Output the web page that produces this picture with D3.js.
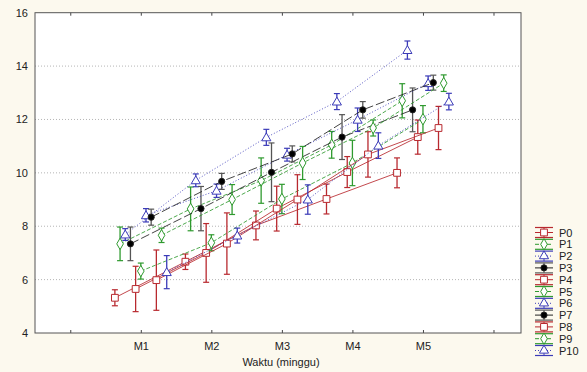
<!DOCTYPE html>
<html><head><meta charset="utf-8">
<script src="https://cdn.jsdelivr.net/npm/d3@7"></script>
<style>
html,body{margin:0;padding:0;background:#fcf9ee;}
svg{display:block;font-family:"Liberation Sans",Arial,sans-serif;}
</style></head>
<body>
<svg id="chart" width="587" height="372"></svg>
<script>
// ---- data ----
const tickLabels = ["", "M1", "M2", "M3", "M4", "M5", ""];
const categories = ["M1", "M2", "M3", "M4", "M5"];
const seriesNames = ["P0","P1","P2","P3","P4","P5","P6","P7","P8","P9","P10"];
const P0  = [5.32, 6.67, 8.03, 9.02, 10.00];
const P1  = [7.34, 8.65, 9.71, 11.05, 12.70];
const P2  = [7.69, 9.72, 11.33, 12.67, 14.60];
const P3  = [7.34, 8.66, 10.02, 11.34, 12.36];
const P4  = [5.65, 7.00, 8.66, 10.03, 11.34];
const P5  = [6.32, 7.38, 9.02, 10.37, 12.01];
const P6  = [8.41, 9.33, 10.68, 11.99, 13.36];
const P7  = [8.34, 9.68, 10.71, 12.36, 13.38];
const P8  = [5.98, 7.35, 9.00, 10.69, 11.68];
const P9  = [7.66, 9.00, 10.37, 11.68, 13.36];
const P10 = [6.28, 7.65, 9.00, 11.02, 12.67];
const P0err  = [0.30, 0.29, 0.54, 0.56, 0.56];
const P1err  = [0.63, 0.82, 0.85, 0.50, 0.64];
const P2err  = [0.22, 0.24, 0.30, 0.30, 0.34];
const P3err  = [0.63, 0.83, 1.10, 0.84, 0.82];
const P4err  = [0.85, 1.10, 0.84, 0.58, 0.64];
const P5err  = [0.30, 0.30, 0.55, 0.85, 0.51];
const P6err  = [0.25, 0.25, 0.24, 0.44, 0.27];
const P7err  = [0.30, 0.30, 0.30, 0.31, 0.28];
const P8err  = [1.13, 1.15, 0.93, 0.85, 0.81];
const P9err  = [0.27, 0.56, 0.62, 0.30, 0.31];
const P10err = [0.62, 0.28, 0.55, 0.48, 0.31];
const yTicks = [4, 6, 8, 10, 12, 14, 16];

const means = [P0,P1,P2,P3,P4,P5,P6,P7,P8,P9,P10];
const errs  = [P0err,P1err,P2err,P3err,P4err,P5err,P6err,P7err,P8err,P9err,P10err];

// style per group (cycling red, green, blue, black)
const styles = [
  {color:"#b8292f", bar:"#b8292f", dash:null, sym:d3.symbolSquare, size:46, fill:"#fff"},
  {color:"#2f9a2f", bar:"#2f9a2f", dash:"4,2", sym:d3.symbolDiamond, size:38, fill:"#fff"},
  {color:"#3b3bb8", bar:"#3b3bb8", dash:"1,2", sym:d3.symbolTriangle, size:36, fill:"#fff"},
  {color:"#222222", bar:"#555555", dash:"9,3", sym:d3.symbolCircle, size:30, fill:"#000"}
];

const svg = d3.select("#chart");
const L = 35, R = 521, T = 12.7, B = 333;
const x = d3.scaleLinear().domain([-0.5, 6.39]).range([L, R]);
const y = d3.scaleLinear().domain([4, 16]).range([B, T]);

svg.append("rect").attr("x", L).attr("y", T).attr("width", R-L).attr("height", B-T).attr("fill", "#fff");

// grid
svg.append("g").selectAll("line").data(yTicks.slice(1, -1)).join("line")
  .attr("x1", L).attr("x2", R).attr("y1", d => y(d)).attr("y2", d => y(d))
  .attr("stroke", "#b5b5b5").attr("stroke-width", 1).attr("stroke-dasharray", "1,2");

// x axis
const xAxis = d3.axisBottom(x).tickValues(d3.range(tickLabels.length))
  .tickFormat(i => tickLabels[i]).tickSizeInner(-3).tickSizeOuter(0).tickPadding(9);
const gx = svg.append("g").attr("transform", `translate(0,${B})`).call(xAxis);
gx.select(".domain").remove();
gx.selectAll("line").attr("stroke", "#444");
gx.selectAll("text").attr("font-size", 11).attr("fill", "#222").attr("font-family", "Liberation Sans, Arial, sans-serif");
const gxt = svg.append("g").attr("transform", `translate(0,${T})`).call(d3.axisTop(x).tickValues(d3.range(tickLabels.length)).tickFormat("").tickSizeInner(-3).tickSizeOuter(0));
gxt.select(".domain").remove();
gxt.selectAll("line").attr("stroke", "#444");

// y axis
const yAxis = d3.axisLeft(y).tickValues(yTicks).tickSize(0).tickPadding(7);
const gy = svg.append("g").attr("transform", `translate(${L},0)`).call(yAxis);
gy.select(".domain").remove();
gy.selectAll("text").attr("font-size", 11).attr("fill", "#222").attr("font-family", "Liberation Sans, Arial, sans-serif");

// border
svg.append("rect").attr("x", L).attr("y", T).attr("width", R-L).attr("height", B-T)
  .attr("fill", "none").attr("stroke", "#555").attr("stroke-width", 1);

svg.append("text").attr("x", 281).attr("y", 366).attr("text-anchor", "middle")
  .attr("font-size", 11).attr("fill", "#222").text("Waktu (minggu)");

// series
const offStep = 0.0735;
const line = d3.line().x(d => x(d.x)).y(d => y(d.v));
means.forEach((vals, i) => {
  const st = styles[i % 4];
  const off = (i - 5) * offStep;
  const pts = vals.map((v, j) => ({x: j + 1 + off, v, e: errs[i][j]}));
  const g = svg.append("g");
  g.append("path").attr("d", line(pts)).attr("fill", "none").attr("stroke", st.color)
    .attr("stroke-width", 1).attr("stroke-dasharray", st.dash).attr("opacity", 0.85);
  pts.forEach(p => {
    const cx = x(p.x);
    g.append("line").attr("x1", cx).attr("x2", cx).attr("y1", y(p.v - p.e)).attr("y2", y(p.v + p.e))
      .attr("stroke", st.bar).attr("stroke-width", 1.3);
    [p.v - p.e, p.v + p.e].forEach(w => g.append("line").attr("x1", cx - 3).attr("x2", cx + 3)
      .attr("y1", y(w)).attr("y2", y(w)).attr("stroke", st.bar).attr("stroke-width", 1.2));
  });
  g.selectAll("path.m").data(pts).join("path").attr("class", "m")
    .attr("d", d3.symbol().type(st.sym).size(st.size))
    .attr("transform", d => `translate(${x(d.x)},${y(d.v) + (st.sym === d3.symbolTriangle ? 0.8 : 0)})`)
    .attr("fill", st.fill).attr("stroke", st.color).attr("stroke-width", 1);
});

// legend
const lg = svg.append("g");
seriesNames.forEach((name, i) => {
  const st = styles[i % 4];
  const cy = 232.5 + i * 11.8;
  const x0 = 535, x1 = 553, xm = 544;
  [cy - 5, cy + 5].forEach(yy => lg.append("line").attr("x1", x0).attr("x2", x1).attr("y1", yy).attr("y2", yy)
    .attr("stroke", st.bar).attr("stroke-width", 1.2));
  lg.append("line").attr("x1", xm).attr("x2", xm).attr("y1", cy - 5).attr("y2", cy + 5).attr("stroke", st.bar).attr("stroke-width", 1);
  lg.append("line").attr("x1", x0).attr("x2", x1).attr("y1", cy).attr("y2", cy)
    .attr("stroke", st.color).attr("stroke-width", 1).attr("stroke-dasharray", st.dash);
  lg.append("path").attr("d", d3.symbol().type(st.sym).size(st.size)())
    .attr("transform", `translate(${xm},${cy})`).attr("fill", st.fill).attr("stroke", st.color);
  lg.append("text").attr("x", 559).attr("y", cy + 4).attr("font-size", 11).attr("fill", "#222").text(name);
});
</script>
</body></html>
